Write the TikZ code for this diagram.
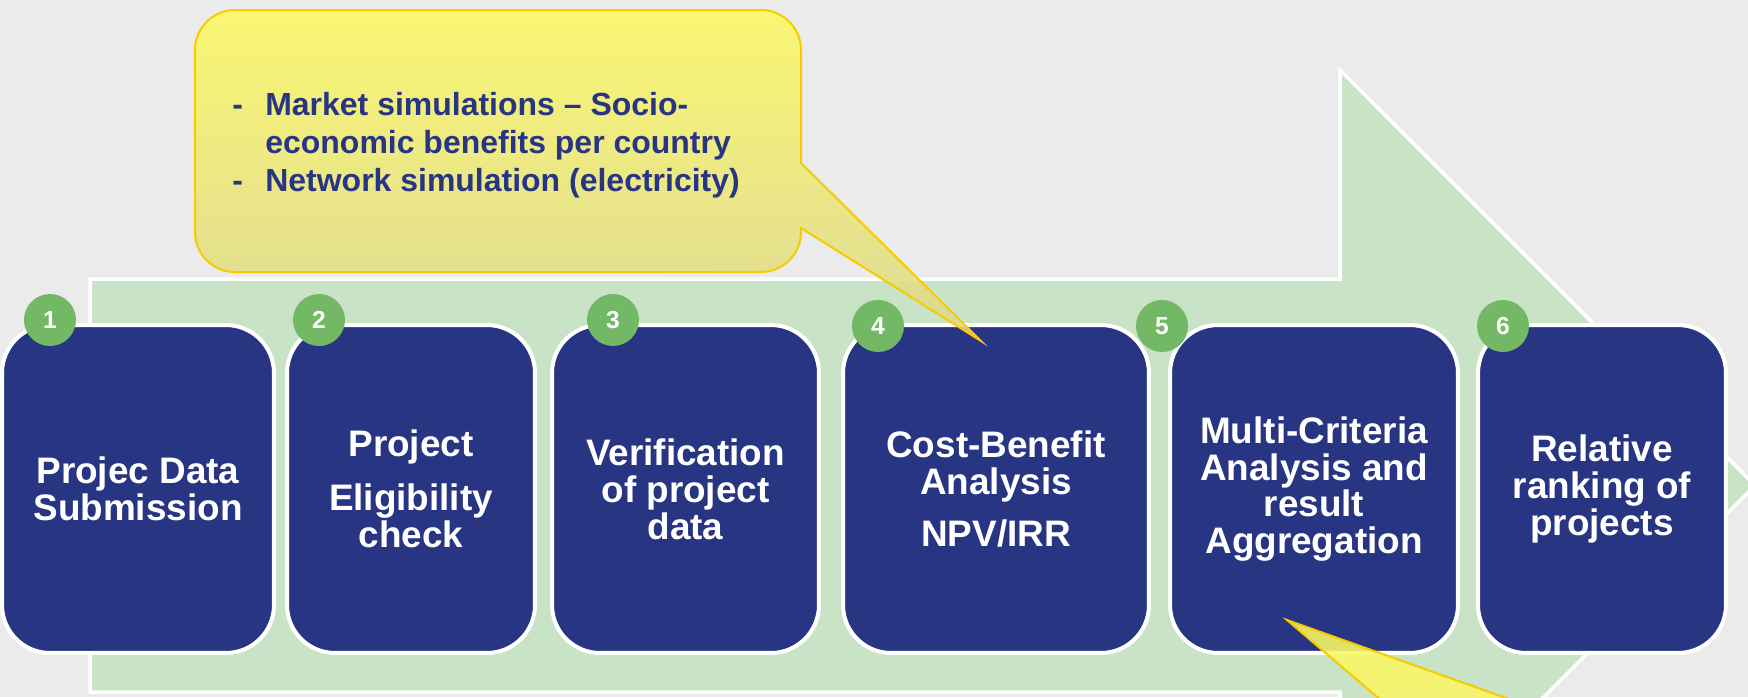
\documentclass[tikz,border=0pt]{standalone}
\usepackage{fontspec}
\setmainfont{Liberation Sans}
\usetikzlibrary{positioning}

\definecolor{bggray}{RGB}{235,235,235}
\definecolor{arrowgreen}{RGB}{200,227,197}
\definecolor{stepblue}{RGB}{40,53,131}
\definecolor{numgreen}{RGB}{114,184,101}
\definecolor{notegold}{RGB}{247,203,0}
\definecolor{noteyellow}{RGB}{252,249,98}
\definecolor{notekhaki}{RGB}{221,216,140}

\tikzset{
        arrowbody/.style={fill=arrowgreen, draw=white, line width=0.07cm},
        stepbox/.style={draw=white, line width=0.08cm, fill=stepblue,
                rounded corners=0.96cm, minimum height=6.56cm, inner sep=0pt,
                align=center, text=white, font=\bfseries\fontsize{21}{21}\selectfont},
        stepnum/.style={circle, fill=numgreen, minimum size=1.04cm, inner sep=0pt,
                text=white, font=\bfseries\fontsize{14}{14}\selectfont},
        callout/.style={draw=notegold, line width=0.04cm, fill opacity=0.88},
        notetext/.style={text=stepblue, align=left, inner sep=0pt,
                font=\bfseries\fontsize{18.2}{21.6}\selectfont}
}

\begin{document}
\begin{tikzpicture}[x=0.02cm, y=-0.02cm]
        \useasboundingbox (0,0) rectangle (1748,697);
        \fill[bggray] (0,0) rectangle (1748,697);
        \clip (0,0) rectangle (1748,697);
        \draw[arrowbody] (90,279) -- (1340,279) -- (1340,70) -- (1755,485.5)
                -- (1340,901) -- (1340,692) -- (90,692) -- cycle;
        \node[stepbox, minimum width=5.44cm] (b1) at (138,489) {Projec Data\\Submission};
        \node[stepbox, minimum width=4.96cm] (b2) at (411,489) {Project\\[0.34cm]Eligibility\\check};
        \node[stepbox, minimum width=5.34cm] (b3) at (685.5,489) {Verification\\of project\\data};
        \node[stepbox, minimum width=6.12cm] (b4) at (996,489) {Cost-Benefit\\Analysis\\[0.32cm]NPV/IRR};
        \node[stepbox, minimum width=5.76cm] (b5) at (1314,489) {Multi-Criteria\\Analysis and\\result\\Aggregation};
        \node[stepbox, minimum width=4.96cm] (b6) at (1602,489) {Relative\\ranking of\\projects};
        \foreach \t/\x/\y in {1/50/320, 2/319/320, 3/613/320, 4/878/326, 5/1162/326, 6/1503/326}{%
                \node[stepnum] (n\t) at (\x,\y) {\t};
            }
        \draw[callout, top color=noteyellow, bottom color=notekhaki]
                (235,10) -- (761,10) arc[start angle=90, end angle=0, radius=0.8cm]
                -- (801,163) -- (981,341) -- (801,228) -- (801,232)
                arc[start angle=0, end angle=-90, radius=0.8cm] -- (235,272)
                arc[start angle=270, end angle=180, radius=0.8cm] -- (195,50)
                arc[start angle=180, end angle=90, radius=0.8cm] -- cycle;
        \node[notetext, anchor=north west] (note) at (232,92)
                {\makebox[0.66cm][l]{-}Market simulations -- Socio-\\
                 \makebox[0.66cm][l]{}economic benefits per country\\
                 \makebox[0.66cm][l]{-}Network simulation (electricity)};
        \draw[callout, top color=noteyellow, bottom color=noteyellow!85!notekhaki]
                (1287,620) -- (1404,720) -- (1568,720) -- cycle;
    \end{tikzpicture}
\end{document}
